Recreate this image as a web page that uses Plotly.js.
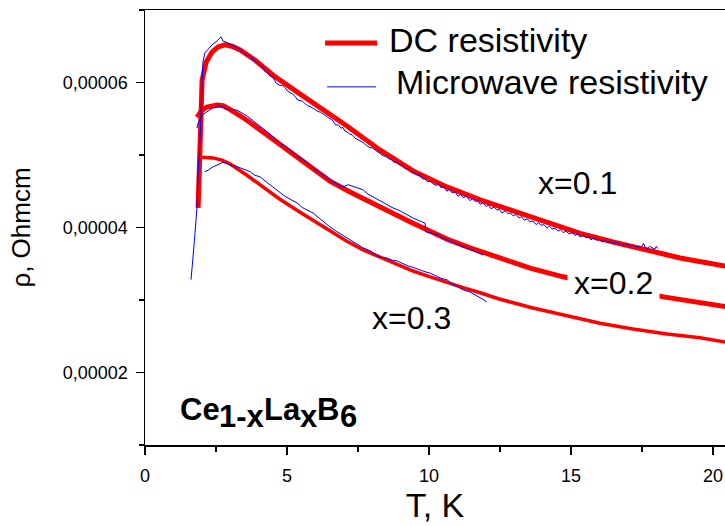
<!DOCTYPE html>
<html>
<head>
<meta charset="utf-8">
<script src="https://cdn.plot.ly/plotly-3.0.1.min.js"></script>
<style>
  html, body { margin: 0; padding: 0; background: #fff; }
  #chart { width: 725px; height: 526px; }
</style>
</head>
<body>
<div id="chart"></div>
<script>
// Resistivity of Ce(1-x)La(x)B6 versus temperature.
// Resistivity values are listed in units of 1e-5 Ohm*cm.
const RHO_UNIT = 1e-5;

// DC resistivity, x = 0.1
const dcT_01 = [1.87, 1.90, 1.94, 2.01, 2.15, 2.36, 2.57, 2.82, 3.06, 3.35, 3.87, 4.51, 5.35, 5.92, 7.11, 8.27, 9.44, 10.63, 11.80, 12.96, 14.15, 15.32, 16.48, 17.68, 18.84, 20.42, 20.6];
const dcR_01 = [4.27, 4.72, 5.21, 6.03, 6.28, 6.42, 6.49, 6.52, 6.50, 6.45, 6.31, 6.10, 5.87, 5.72, 5.40, 5.07, 4.78, 4.56, 4.38, 4.23, 4.08, 3.92, 3.80, 3.68, 3.58, 3.47, 3.45];

// DC resistivity, x = 0.2
const dcT_02 = [1.83, 2.01, 2.18, 2.36, 2.54, 2.75, 2.99, 3.59, 4.15, 4.75, 5.35, 5.92, 6.51, 7.22, 7.92, 8.63, 9.33, 9.93, 10.63, 11.44, 12.50, 13.56, 14.72, 16.02, 17.18, 18.31, 19.54, 20.42, 20.6];
const dcR_02 = [5.52, 5.62, 5.66, 5.68, 5.69, 5.68, 5.63, 5.48, 5.32, 5.14, 4.97, 4.81, 4.64, 4.49, 4.35, 4.21, 4.08, 3.97, 3.84, 3.72, 3.58, 3.44, 3.32, 3.21, 3.12, 3.04, 2.97, 2.92, 2.90];

// DC resistivity, x = 0.3
const dcT_03 = [2.01, 2.18, 2.39, 2.71, 2.99, 3.59, 4.15, 4.75, 5.46, 5.92, 6.51, 7.11, 7.68, 8.27, 8.87, 9.44, 10.04, 10.63, 11.20, 11.80, 12.50, 13.66, 14.86, 16.02, 17.18, 18.38, 19.54, 20.42, 20.6];
const dcR_03 = [4.97, 4.97, 4.96, 4.93, 4.88, 4.72, 4.56, 4.39, 4.21, 4.10, 3.95, 3.81, 3.69, 3.59, 3.50, 3.40, 3.32, 3.24, 3.17, 3.10, 3.01, 2.89, 2.78, 2.68, 2.60, 2.53, 2.48, 2.42, 2.41];

// Microwave resistivity, x = 0.1
const mwT_01 = [1.62, 1.65, 1.69, 1.76, 1.83, 1.87, 1.94, 2.01, 2.04, 2.11, 2.22, 2.32, 2.39, 2.50, 2.61, 2.68, 2.75, 2.85, 2.99, 3.17, 3.35,
  3.52, 3.61, 3.70, 3.82, 3.94, 4.05, 4.15, 4.23, 4.30, 4.40, 4.51, 4.62, 4.75, 4.84, 4.93, 5.02, 5.11, 5.20, 5.28, 5.37, 5.46, 5.55, 5.63, 5.72, 5.81, 5.92,
  6.00, 6.09, 6.18, 6.27, 6.40, 6.51, 6.58, 6.65, 6.72, 6.80, 6.90, 6.97, 7.04, 7.11, 7.20, 7.29, 7.40, 7.50, 7.60, 7.68, 7.80, 7.92, 8.00, 8.10, 8.18, 8.27,
  8.38, 8.49, 8.57, 8.66, 8.77, 8.87, 8.97, 9.08, 9.17, 9.26, 9.35, 9.44, 9.56, 9.68, 9.77, 9.86, 9.95, 10.04,
  10.15, 10.25, 10.34, 10.42, 10.53, 10.63, 10.72, 10.81, 10.92, 11.02, 11.11, 11.20, 11.32, 11.44, 11.53, 11.62, 11.71, 11.80, 11.90, 12.01,
  12.10, 12.18, 12.29, 12.39, 12.48, 12.57, 12.68, 12.78, 12.87, 12.96, 13.06, 13.17, 13.26, 13.35, 13.45, 13.56, 13.66, 13.77, 13.85, 13.94,
  14.05, 14.15, 14.24, 14.33, 14.44, 14.54, 14.63, 14.72, 14.83, 14.93, 15.04, 15.14, 15.23, 15.32, 15.43, 15.53, 15.62, 15.70, 15.81, 15.92,
  16.00, 16.09, 16.20, 16.30, 16.39, 16.48, 16.58, 16.69, 16.78, 16.87, 16.97, 17.08, 17.18, 17.29, 17.38, 17.46, 17.55, 17.62, 17.68, 17.77,
  17.85, 17.95, 18.00, 18.06];
const mwR_01 = [3.28, 3.47, 3.59, 3.92, 4.28, 4.75, 5.21, 6.03, 6.28, 6.41, 6.46, 6.50, 6.53, 6.56, 6.60, 6.63, 6.57, 6.56, 6.53, 6.50, 6.45,
  6.40, 6.37, 6.37, 6.31, 6.28, 6.24, 6.22, 6.15, 6.14, 6.09, 6.07, 5.99, 5.96, 5.96, 5.93, 5.88, 5.86, 5.84, 5.81, 5.76, 5.75, 5.74, 5.71, 5.68, 5.67, 5.64,
  5.63, 5.60, 5.59, 5.56, 5.53, 5.50, 5.49, 5.45, 5.41, 5.42, 5.37, 5.38, 5.33, 5.32, 5.29, 5.28, 5.23, 5.21, 5.19, 5.17, 5.13, 5.10, 5.10, 5.07, 5.05, 5.03,
  4.99, 4.98, 4.95, 4.94, 4.90, 4.90, 4.86, 4.85, 4.81, 4.81, 4.77, 4.76, 4.73, 4.72, 4.67, 4.67, 4.63, 4.64,
  4.60, 4.58, 4.61, 4.55, 4.56, 4.50, 4.53, 4.48, 4.49, 4.43, 4.46, 4.41, 4.43, 4.37, 4.40, 4.36, 4.37, 4.32, 4.34, 4.29,
  4.31, 4.26, 4.28, 4.24, 4.25, 4.20, 4.23, 4.19, 4.20, 4.16, 4.18, 4.13, 4.15, 4.10, 4.12, 4.08, 4.09, 4.04, 4.07, 4.03,
  4.04, 3.99, 4.02, 3.98, 3.99, 3.95, 3.97, 3.93, 3.95, 3.91, 3.93, 3.89, 3.91, 3.87, 3.89, 3.86, 3.87, 3.83, 3.86, 3.82,
  3.84, 3.80, 3.83, 3.79, 3.81, 3.78, 3.80, 3.77, 3.78, 3.75, 3.77, 3.74, 3.76, 3.73, 3.74, 3.72, 3.78, 3.72, 3.71, 3.74,
  3.72, 3.70, 3.74, 3.71];

// Microwave resistivity, x = 0.2
const mwT_02 = [1.83, 1.87, 2.01, 2.18, 2.39, 2.54, 2.64, 2.89, 3.24, 3.59, 4.05, 4.40, 4.75, 5.11, 5.35, 5.70, 5.92, 6.16, 6.51, 6.76, 6.97,
  7.15, 7.32, 7.50, 7.68, 7.85, 8.03, 8.27, 8.52, 8.73, 8.98, 9.23, 9.44, 9.68, 9.86, 9.89, 10.07, 10.28, 10.46, 10.63, 10.81, 11.02, 11.20, 11.44, 11.65, 11.90];
const mwR_02 = [5.37, 5.44, 5.55, 5.59, 5.65, 5.66, 5.68, 5.63, 5.62, 5.54, 5.40, 5.29, 5.17, 5.07, 4.99, 4.90, 4.82, 4.75, 4.66, 4.60, 4.56,
  4.59, 4.57, 4.55, 4.52, 4.46, 4.42, 4.37, 4.31, 4.27, 4.23, 4.17, 4.13, 4.09, 4.06, 3.94, 3.92, 3.90, 3.86, 3.83, 3.80, 3.77, 3.73, 3.70, 3.66, 3.62];

// Microwave resistivity, x = 0.3
const mwT_03 = [2.11, 2.22, 2.36, 2.54, 2.64, 2.75, 2.89, 2.99, 3.17, 3.35, 3.52, 3.70, 3.87, 4.05, 4.23, 4.40, 4.58, 4.75, 4.93, 5.11, 5.35,
  5.56, 5.74, 5.92, 6.16, 6.34, 6.51, 6.73, 6.90, 7.11, 7.29, 7.50, 7.68, 7.92, 8.10, 8.27, 8.52, 8.70, 8.87, 9.08, 9.26, 9.44, 9.68, 9.86, 10.04,
  10.25, 10.42, 10.63, 10.81, 11.02, 11.20, 11.44, 11.62, 11.80, 11.94, 12.04];
const mwR_03 = [4.77, 4.79, 4.83, 4.86, 4.88, 4.90, 4.88, 4.86, 4.85, 4.82, 4.79, 4.77, 4.72, 4.70, 4.64, 4.59, 4.53, 4.48, 4.43, 4.39, 4.34,
  4.27, 4.24, 4.20, 4.12, 4.06, 4.01, 3.95, 3.91, 3.86, 3.81, 3.76, 3.72, 3.68, 3.63, 3.59, 3.58, 3.55, 3.54, 3.50, 3.47, 3.45, 3.41, 3.39, 3.37,
  3.33, 3.30, 3.28, 3.22, 3.18, 3.14, 3.11, 3.07, 3.04, 3.00, 2.97];

// Axis ticks
const xTicks = [0, 5, 10, 15, 20];
const yTicks = [2e-5, 4e-5, 6e-5];

// Pieces of the compound formula Ce(1-x)La(x)B(6): [text, is subscript]
const formulaParts = [['Ce', false], ['1-x', true], ['La', false], ['x', true], ['B', false], ['6', true]];

const toRho = arr => arr.map(v => v * RHO_UNIT);

const FONT = 'Arial, "Liberation Sans", sans-serif';
const RED = '#ff0000';
const BLUE = '#0000ff';

function dcTrace(T, R, w) {
  return { x: T, y: toRho(R), type: 'scatter', mode: 'lines',
           line: { color: RED, width: w }, hoverinfo: 'skip', showlegend: false };
}
function mwTrace(T, R) {
  return { x: T, y: toRho(R), type: 'scatter', mode: 'lines',
           line: { color: BLUE, width: 1 }, hoverinfo: 'skip', showlegend: false };
}

const traces = [
  dcTrace(dcT_01, dcR_01, 5),
  dcTrace(dcT_02, dcR_02, 5),
  dcTrace(dcT_03, dcR_03, 3.5),
  mwTrace(mwT_01, mwR_01),
  mwTrace(mwT_02, mwR_02),
  mwTrace(mwT_03, mwR_03)
];

const annotations = [
  // legend texts
  { x: 8.52, y: 6.59e-5, xref: 'x', yref: 'y', text: 'DC resistivity', showarrow: false,
    xanchor: 'left', yanchor: 'middle', font: { family: FONT, size: 34, color: '#000' } },
  { x: 8.76, y: 6.01e-5, xref: 'x', yref: 'y', text: 'Microwave resistivity', showarrow: false,
    xanchor: 'left', yanchor: 'middle', font: { family: FONT, size: 34, color: '#000' } },
  // curve labels
  { x: 15.21, y: 4.61e-5, xref: 'x', yref: 'y', text: 'x=0.1', showarrow: false,
    font: { family: FONT, size: 32, color: '#000' } },
  { x: 16.51, y: 3.24e-5, xref: 'x', yref: 'y', text: 'x=0.2', showarrow: false,
    bgcolor: '#ffffff', borderpad: 6,
    font: { family: FONT, size: 32, color: '#000' } },
  { x: 9.40, y: 2.75e-5, xref: 'x', yref: 'y', text: 'x=0.3', showarrow: false,
    font: { family: FONT, size: 32, color: '#000' } }
];

// Compound formula, laid out piece by piece with lowered indices
(function addFormula() {
  const size = 31;
  const charW = { C: 0.722, e: 0.556, '1': 0.556, '-': 0.333, x: 0.556, L: 0.611, a: 0.556, B: 0.722, '6': 0.556 };
  let shift = 0;
  formulaParts.forEach(([txt, sub]) => {
    annotations.push({
      x: 0.058, y: sub ? 0.066 : 0.081, xref: 'paper', yref: 'paper',
      xshift: shift, xanchor: 'left', yanchor: 'middle', showarrow: false, borderpad: 0,
      text: '<b>' + txt + '</b>', font: { family: FONT, size: size, color: '#000' }
    });
    shift += txt.split('').reduce((s, c) => s + (charW[c] || 0.556), 0) * size;
  });
})();

const shapes = [
  // legend samples
  { type: 'line', xref: 'x', yref: 'y', x0: 6.34, x1: 8.17, y0: 6.545e-5, y1: 6.545e-5,
    line: { color: RED, width: 5 } },
  { type: 'line', xref: 'x', yref: 'y', x0: 6.41, x1: 8.13, y0: 5.94e-5, y1: 5.94e-5,
    line: { color: '#5a5aff', width: 1.5 } }
];

const layout = {
  width: 725, height: 526,
  margin: { l: 145, r: 0, t: 10, b: 81, pad: 0 },
  paper_bgcolor: '#fff', plot_bgcolor: '#fff',
  separators: ',.',
  font: { family: FONT, color: '#000' },
  showlegend: false,
  xaxis: {
    range: [0, 20.42], showgrid: false, zeroline: false,
    showline: true, linecolor: '#000', linewidth: 1.5, mirror: true,
    ticks: 'outside', ticklen: 8, tickwidth: 1.5, tickcolor: '#000',
    tickvals: xTicks, tickfont: { family: FONT, size: 18, color: '#000' },
    ticklabelstandoff: 6,
    minor: { dtick: 2.5, tick0: 0, ticks: 'outside', ticklen: 5, tickwidth: 1.5, tickcolor: '#000', showgrid: false },
    title: { text: 'T, K', font: { family: FONT, size: 34, color: '#000' }, standoff: 7 }
  },
  yaxis: {
    range: [1e-5, 7e-5], showgrid: false, zeroline: false,
    showline: true, linecolor: '#000', linewidth: 1.5,
    ticks: 'outside', ticklen: 8, tickwidth: 1.5, tickcolor: '#000',
    tickvals: yTicks, tickformat: '.5f', tickfont: { family: FONT, size: 18, color: '#000' },
    ticklabelstandoff: 4,
    minor: { dtick: 1e-5, tick0: 0, ticks: 'outside', ticklen: 5, tickwidth: 1.5, tickcolor: '#000', showgrid: false },
    title: { text: 'ρ, Ohmcm', font: { family: FONT, size: 26, color: '#000' }, standoff: 24 }
  },
  annotations: annotations,
  shapes: shapes
};

Plotly.newPlot('chart', traces, layout, { staticPlot: true, displayModeBar: false });
</script>
</body>
</html>
